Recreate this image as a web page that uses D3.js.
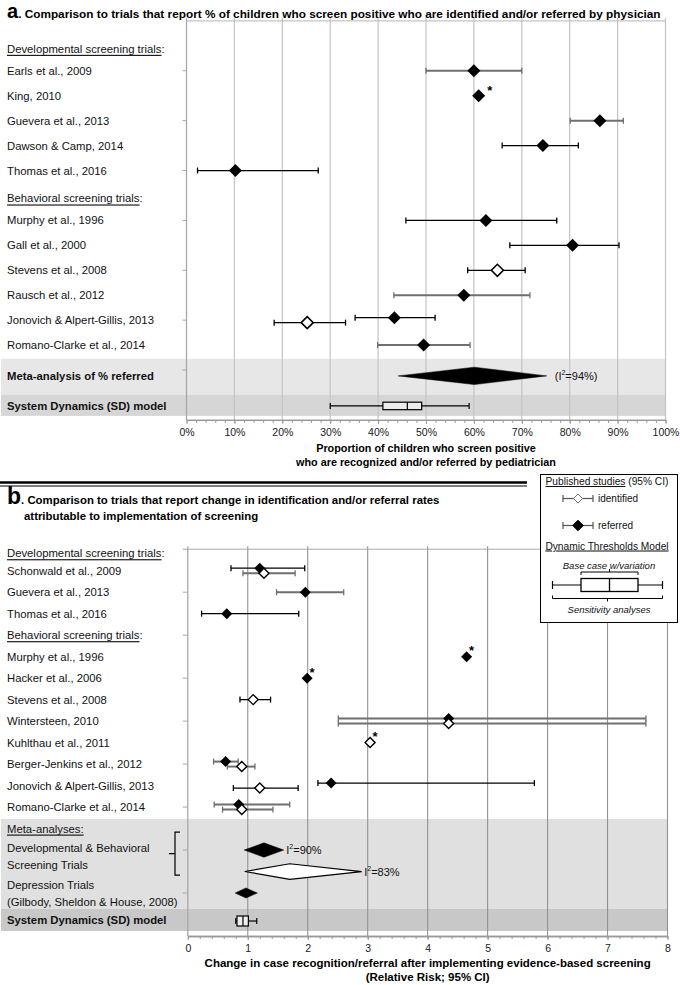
<!DOCTYPE html>
<html><head><meta charset="utf-8">
<script src="https://cdn.jsdelivr.net/npm/d3@7"></script>
<style>
body{margin:0;background:#fff;}
svg{display:block;}
</style></head><body>
<svg id="chart" width="680" height="985"></svg>
<script>
// ================= DATA: panel a (proportion identified / referred, %) =================
const aRows = ["Developmental screening trials:","Earls et al., 2009","King, 2010","Guevera et al., 2013",
  "Dawson & Camp, 2014","Thomas et al., 2016","Behavioral screening trials:","Murphy et al., 1996",
  "Gall et al., 2000","Stevens et al., 2008","Rausch et al., 2012","Jonovich & Alpert-Gillis, 2013",
  "Romano-Clarke et al., 2014","Meta-analysis of % referred","System Dynamics (SD) model"];
const aHeaders = ["Developmental screening trials:","Behavioral screening trials:"];
const aReferred = [
  {study:"Earls et al., 2009", est:60.0, lo:50.0, hi:70.0, ci:"derived"},
  {study:"King, 2010", est:61.0, lo:null, hi:null, ci:null, note:"*"},
  {study:"Guevera et al., 2013", est:86.3, lo:80.1, hi:91.2, ci:"derived"},
  {study:"Dawson & Camp, 2014", est:74.4, lo:65.9, hi:81.8, ci:"reported"},
  {study:"Thomas et al., 2016", est:10.2, lo:2.3, hi:27.5, ci:"reported"},
  {study:"Murphy et al., 1996", est:62.5, lo:45.8, hi:77.3, ci:"reported"},
  {study:"Gall et al., 2000", est:80.6, lo:67.5, hi:90.3, ci:"reported"},
  {study:"Rausch et al., 2012", est:57.9, lo:43.3, hi:71.7, ci:"derived"},
  {study:"Jonovich & Alpert-Gillis, 2013", est:43.4, lo:35.2, hi:51.9, ci:"reported"},
  {study:"Romano-Clarke et al., 2014", est:49.5, lo:39.9, hi:59.2, ci:"derived"}
];
const aIdentified = [
  {study:"Stevens et al., 2008", est:64.9, lo:58.7, hi:70.7, ci:"reported"},
  {study:"Jonovich & Alpert-Gillis, 2013", est:25.2, lo:18.3, hi:33.2, ci:"reported"}
];
const aMeta = [{row:"Meta-analysis of % referred", kind:"referred", lo:44.2, est:60.1, hi:75.2, i2:"94%"}];
const aModel = [{row:"System Dynamics (SD) model", min:30.0, q1:41.0, median:46.1, q3:49.1, max:59.0}];
const aTickValues = [0,10,20,30,40,50,60,70,80,90,100];
const aTickLabels = ["0%","10%","20%","30%","40%","50%","60%","70%","80%","90%","100%"];

// ================= DATA: panel b (relative risk) =================
const bRows = ["Developmental screening trials:","Schonwald et al., 2009","Guevera et al., 2013","Thomas et al., 2016",
  "Behavioral screening trials:","Murphy et al., 1996","Hacker et al., 2006","Stevens et al., 2008",
  "Wintersteen, 2010","Kuhlthau et al., 2011","Berger-Jenkins et al., 2012","Jonovich & Alpert-Gillis, 2013",
  "Romano-Clarke et al., 2014","Meta-analyses:","Dev & Beh screening (referred)","Dev & Beh screening (identified)",
  "Depression Trials","System Dynamics (SD) model"];
const bReferred = [
  {study:"Schonwald et al., 2009", est:1.20, lo:0.72, hi:1.95, ci:"reported"},
  {study:"Guevera et al., 2013", est:1.96, lo:1.48, hi:2.60, ci:"derived"},
  {study:"Thomas et al., 2016", est:0.65, lo:0.23, hi:1.85, ci:"reported"},
  {study:"Murphy et al., 1996", est:4.65, lo:null, hi:null, ci:null, note:"*"},
  {study:"Hacker et al., 2006", est:1.99, lo:null, hi:null, ci:null, note:"*"},
  {study:"Wintersteen, 2010", est:4.35, lo:2.51, hi:7.64, ci:"derived"},
  {study:"Berger-Jenkins et al., 2012", est:0.63, lo:0.43, hi:0.84, ci:"derived"},
  {study:"Jonovich & Alpert-Gillis, 2013", est:2.39, lo:2.17, hi:5.78, ci:"reported"},
  {study:"Romano-Clarke et al., 2014", est:0.85, lo:0.44, hi:1.70, ci:"derived"}
];
const bIdentified = [
  {study:"Schonwald et al., 2009", est:1.27, lo:0.92, hi:1.79, ci:"derived"},
  {study:"Stevens et al., 2008", est:1.09, lo:0.87, hi:1.38, ci:"reported"},
  {study:"Wintersteen, 2010", est:4.35, lo:2.51, hi:7.64, ci:"derived"},
  {study:"Kuhlthau et al., 2011", est:3.04, lo:null, hi:null, ci:null, note:"*"},
  {study:"Berger-Jenkins et al., 2012", est:0.90, lo:0.66, hi:1.12, ci:"derived"},
  {study:"Jonovich & Alpert-Gillis, 2013", est:1.20, lo:0.76, hi:1.84, ci:"reported"},
  {study:"Romano-Clarke et al., 2014", est:0.90, lo:0.58, hi:1.42, ci:"derived"}
];
const bMeta = [
  {row:"Dev & Beh screening (referred)", kind:"referred", lo:0.94, est:1.27, hi:1.60, i2:"90%"},
  {row:"Dev & Beh screening (identified)", kind:"identified", lo:0.95, est:1.70, hi:2.90, i2:"83%"},
  {row:"Depression Trials", kind:"referred", lo:0.79, est:0.97, hi:1.16, i2:null}
];
const bModel = [{row:"System Dynamics (SD) model", min:0.80, q1:0.82, median:0.92, q3:1.01, max:1.15}];
const bTickValues = [0,1,2,3,4,5,6,7,8];
const bTickLabels = ["0","1","2","3","4","5","6","7","8"];

// ================= STYLE =================
const FONT = '"Liberation Sans", Arial, Helvetica, sans-serif';
const LABEL_SIZE = 11.3;
const ciColor = {reported:"#000", derived:"#6f6f6f"};
const ciWidth = {reported:1.3, derived:2};

const svg = d3.select("#chart").attr("font-family", FONT);
svg.append("rect").attr("width",680).attr("height",985).attr("fill","#fff");

function diamond(cx, cy, hl, hr, hh, tipX) {
  return `M${hl},${cy}L${tipX},${cy-hh}L${hr},${cy}L${tipX},${cy+hh}Z`;
}

function headerText(g, x, y, label, underlineAll) {
  const t = g.append("text").attr("x",x).attr("y",y).attr("dominant-baseline","central")
    .attr("font-size",LABEL_SIZE).attr("fill","#111");
  if (underlineAll) {
    t.append("tspan").attr("text-decoration","underline").text(label);
  } else {
    t.append("tspan").attr("text-decoration","underline").text(label.replace(/:$/,""));
    t.append("tspan").text(":");
  }
}

function drawStudies(g, x, y, referred, identified, st) {
  const refSet = new Set(referred.map(d=>d.study));
  const both = new Set(identified.filter(d=>refSet.has(d.study)).map(d=>d.study));
  const all = referred.map(d=>({...d, kind:"referred"})).concat(identified.map(d=>({...d, kind:"identified"})));
  all.forEach(d=>{
    const off = both.has(d.study) ? (d.kind==="referred" ? -st.pairOffset : st.pairOffset) : 0;
    d.cy = y(d.study) + off;
  });
  const ci = all.filter(d=>d.lo!=null);
  const eb = g.append("g");
  eb.selectAll("line.bar").data(ci).join("line")
    .attr("x1",d=>x(d.lo)).attr("x2",d=>x(d.hi)).attr("y1",d=>d.cy).attr("y2",d=>d.cy)
    .attr("stroke",d=>ciColor[d.ci]).attr("stroke-width",d=>ciWidth[d.ci]);
  ["lo","hi"].forEach(k=>{
    eb.selectAll("line.cap"+k).data(ci).join("line")
      .attr("x1",d=>x(d[k])).attr("x2",d=>x(d[k])).attr("y1",d=>d.cy-st.cap).attr("y2",d=>d.cy+st.cap)
      .attr("stroke",d=>ciColor[d.ci]).attr("stroke-width",1.3);
  });
  const ref = all.filter(d=>d.kind==="referred"), idf = all.filter(d=>d.kind==="identified");
  g.selectAll("path.ref").data(ref).join("path")
    .attr("d",d=>diamond(x(d.est), d.cy, x(d.est)-st.h, x(d.est)+st.h, st.h, x(d.est)))
    .attr("fill","#000");
  g.selectAll("path.idf").data(idf).join("path")
    .attr("d",d=>diamond(x(d.est), d.cy, x(d.est)-st.ho, x(d.est)+st.ho, st.ho, x(d.est)))
    .attr("fill","#fff").attr("stroke","#000").attr("stroke-width",st.ow);
  g.selectAll("text.note").data(all.filter(d=>d.note)).join("text")
    .attr("x",d=>x(d.est)+st.starDx).attr("y",d=>d.cy+st.starDy)
    .attr("text-anchor","middle").attr("font-size",13).attr("font-weight","bold").text(d=>d.note);
}

function drawMeta(g, x, cyOf, data, halfOf, labelGap, paren) {
  g.selectAll("path.meta").data(data).join("path")
    .attr("d",(d,i)=>diamond(0, cyOf(d), x(d.lo), x(d.hi), halfOf(i), x(d.est)))
    .attr("fill",d=>d.kind==="referred"?"#000":"#fff")
    .attr("stroke","#000").attr("stroke-width",d=>d.kind==="referred"?0.5:1.2);
  const lab = g.selectAll("text.i2").data(data.filter(d=>d.i2)).join("text")
    .attr("x",d=>x(d.hi)+labelGap).attr("y",d=>cyOf(d)).attr("dominant-baseline","central")
    .attr("font-size",11).attr("fill","#111");
  lab.each(function(d){
    const t = d3.select(this);
    if (paren) t.append("tspan").text("(");
    t.append("tspan").text("I");
    t.append("tspan").attr("font-size",7).attr("dy",-4).text("2");
    t.append("tspan").attr("dy",4).text("=" + d.i2 + (paren?")":""));
  });
}

function drawModel(g, x, cy, d, bh, fill) {
  g.append("line").attr("x1",x(d.min)).attr("x2",x(d.max)).attr("y1",cy).attr("y2",cy)
    .attr("stroke","#000").attr("stroke-width",1.2);
  [d.min,d.max].forEach(v=>g.append("line").attr("x1",x(v)).attr("x2",x(v)).attr("y1",cy-3).attr("y2",cy+3)
    .attr("stroke","#000").attr("stroke-width",1.2));
  g.append("rect").attr("x",x(d.q1)).attr("y",cy-bh/2).attr("width",x(d.q3)-x(d.q1)).attr("height",bh)
    .attr("fill",fill).attr("stroke","#000").attr("stroke-width",1.2);
  g.append("line").attr("x1",x(d.median)).attr("x2",x(d.median)).attr("y1",cy-bh/2).attr("y2",cy+bh/2)
    .attr("stroke","#000").attr("stroke-width",1.2);
}

// ================= PANEL A =================
(function(){
  const g = svg.append("g");
  const x = d3.scaleLinear().domain([0,100]).range([186.5,665.5]);
  const y = d3.scalePoint().domain(["__top", ...aRows, "__axis"]).range([20.9,419.9]);
  const step = y.step();
  const top = y("__top"), axisY = y("__axis");
  const metaTop = y(aRows[12]) + 0.55*step, sdTop = y(aRows[14]), sdBot = axisY - 4;
  g.append("rect").attr("x",1).attr("y",metaTop).attr("width",x(100)-1).attr("height",sdTop-metaTop).attr("fill","#e7e7e7");
  g.append("rect").attr("x",1).attr("y",sdTop).attr("width",x(100)-1).attr("height",sdBot-sdTop).attr("fill","#d6d6d6");
  g.selectAll("line.grid").data(aTickValues.slice(1)).join("line")
    .attr("x1",d=>x(d)).attr("x2",d=>x(d)).attr("y1",top-3).attr("y2",axisY)
    .attr("stroke","#c4c4c4").attr("stroke-width",1.2);
  g.append("line").attr("x1",x(0)).attr("x2",x(100)).attr("y1",top).attr("y2",top).attr("stroke","#b5b5b5");
  g.append("line").attr("x1",x(0)).attr("x2",x(0)).attr("y1",top-3).attr("y2",axisY).attr("stroke","#a8a8a8").attr("stroke-width",1.3);
  const tickRows = aRows.filter((r,i)=>i%2===1);
  g.selectAll("line.lt").data(tickRows).join("line")
    .attr("x1",x(0)-4).attr("x2",x(0)).attr("y1",d=>y(d)).attr("y2",d=>y(d)).attr("stroke","#a8a8a8");
  const ax = g.append("g").attr("transform",`translate(0,${axisY})`);
  ax.call(d3.axisBottom(x).tickValues(d3.range(0,101,2)).tickSize(3).tickSizeOuter(0).tickFormat(""));
  const ax2 = g.append("g").attr("transform",`translate(0,${axisY})`);
  ax2.call(d3.axisBottom(x).tickValues(aTickValues).tickSize(4).tickSizeOuter(0).tickPadding(5)
    .tickFormat((d,i)=>aTickLabels[i]));
  [ax,ax2].forEach(a=>{ a.selectAll("path,line").attr("stroke","#999"); a.select(".domain").attr("stroke-width",1.3);
    a.selectAll("text").attr("font-family",FONT).attr("font-size",10.5).attr("fill","#1a1a1a"); });
  aRows.forEach((r,i)=>{
    if (aHeaders.includes(r)) headerText(g, 7, y(r)+3, r, false);
    else if (i < 13) g.append("text").attr("x",7).attr("y",y(r)).attr("dominant-baseline","central")
        .attr("font-size",LABEL_SIZE).attr("fill","#111").text(r);
  });
  const metaCy = (metaTop+sdTop)/2 - 1, sdCy = (sdTop+sdBot)/2 + 0.5;
  g.append("text").attr("x",7).attr("y",metaCy).attr("dominant-baseline","central").attr("font-size",LABEL_SIZE)
    .attr("font-weight","bold").attr("fill","#111").text(aRows[13]);
  g.append("text").attr("x",7).attr("y",sdCy).attr("dominant-baseline","central").attr("font-size",LABEL_SIZE)
    .attr("font-weight","bold").attr("fill","#111").text(aRows[14]);
  drawStudies(g, x, y, aReferred, aIdentified, {pairOffset:2.5, cap:3, h:6.5, ho:6, ow:1.6, starDx:11, starDy:-1});
  drawMeta(g, x, ()=>metaCy, aMeta, ()=>8.7, 8, true);
  drawModel(g, x, sdCy, aModel[0], 7.5, "#ececec");
  const t = g.append("text").attr("x",7).attr("y",18).attr("font-weight","bold").attr("fill","#000");
  t.append("tspan").attr("font-size",20).text("a");
  t.append("tspan").attr("font-size",11.8).text(". Comparison to trials that report % of children who screen positive who are identified and/or referred by physician");
  const at = g.append("text").attr("text-anchor","middle").attr("font-weight","bold").attr("font-size",10.8).attr("fill","#000");
  at.append("tspan").attr("x",(x(0)+x(100))/2).attr("y",452).text("Proportion of children who screen positive");
  at.append("tspan").attr("x",(x(0)+x(100))/2).attr("y",466).text("who are recognized and/or referred by pediatrician");
})();

// separator
svg.append("line").attr("x1",0).attr("x2",527).attr("y1",482.5).attr("y2",482.5).attr("stroke","#000").attr("stroke-width",2.5);
svg.append("line").attr("x1",0).attr("x2",527).attr("y1",486).attr("y2",486).attr("stroke","#000").attr("stroke-width",1.2);

// ================= PANEL B =================
(function(){
  const g = svg.append("g");
  const x = d3.scaleLinear().domain([0,8]).range([187.8,667.5]);
  const y = d3.scalePoint().domain([...bRows, "__axis"]).range([549.2,936]);
  const step = y.step();
  const top = y(bRows[0]), axisY = y("__axis");
  const metaTop = y(bRows[12]) + 0.55*step, sdTop = y(bRows[17]) - 5.5, sdBot = axisY - 5;
  g.append("rect").attr("x",1).attr("y",metaTop).attr("width",x(8)-1).attr("height",sdTop-metaTop).attr("fill","#e0e0e0");
  g.append("rect").attr("x",1).attr("y",sdTop).attr("width",x(8)-1).attr("height",sdBot-sdTop).attr("fill","#c8c8c8");
  g.selectAll("line.grid").data(bTickValues.slice(1)).join("line")
    .attr("x1",d=>x(d)).attr("x2",d=>x(d)).attr("y1",top-3).attr("y2",axisY)
    .attr("stroke","#929292").attr("stroke-width",1.1);
  g.append("line").attr("x1",x(0)).attr("x2",x(8)).attr("y1",top).attr("y2",top).attr("stroke","#aaa");
  g.append("line").attr("x1",x(0)).attr("x2",x(0)).attr("y1",top-3).attr("y2",axisY).attr("stroke","#a8a8a8").attr("stroke-width",1.3);
  const tickRows = bRows.filter((r,i)=>i%2===0);
  g.selectAll("line.lt").data(tickRows).join("line")
    .attr("x1",x(0)-5).attr("x2",x(0)).attr("y1",d=>y(d)).attr("y2",d=>y(d)).attr("stroke","#a8a8a8");
  const ax = g.append("g").attr("transform",`translate(0,${axisY})`);
  ax.call(d3.axisBottom(x).tickValues(d3.range(0,8.01,0.2)).tickSize(3).tickSizeOuter(0).tickFormat(""));
  const ax2 = g.append("g").attr("transform",`translate(0,${axisY})`);
  ax2.call(d3.axisBottom(x).tickValues(bTickValues).tickSize(4).tickSizeOuter(0).tickPadding(5)
    .tickFormat((d,i)=>bTickLabels[i]));
  [ax,ax2].forEach(a=>{ a.selectAll("path,line").attr("stroke","#999"); a.select(".domain").attr("stroke-width",1.3);
    a.selectAll("text").attr("font-family",FONT).attr("font-size",10.5).attr("fill","#1a1a1a"); });
  bRows.forEach((r,i)=>{
    if (i===0) headerText(g, 7, y(r)+4, r, false);
    else if (i===4) headerText(g, 7, y(r), r, false);
    else if (i===13) headerText(g, 7, y(r), r, true);
    else if (i < 13) g.append("text").attr("x",7).attr("y",y(r)).attr("dominant-baseline","central")
        .attr("font-size",LABEL_SIZE).attr("fill","#111").text(r);
  });
  const lbl = (txt, yy)=>g.append("text").attr("x",7).attr("y",yy).attr("dominant-baseline","central")
        .attr("font-size",LABEL_SIZE).attr("fill","#111").text(txt);
  lbl("Developmental & Behavioral", y(bRows[14])-2);
  lbl("Screening Trials", y(bRows[14])+14.5);
  lbl("Depression Trials", y(bRows[16])-8.5);
  lbl("(Gilbody, Sheldon & House, 2008)", y(bRows[16])+8.5);
  const sdCy = (sdTop+sdBot)/2;
  g.append("text").attr("x",7).attr("y",sdCy).attr("dominant-baseline","central").attr("font-size",LABEL_SIZE)
    .attr("font-weight","bold").attr("fill","#111").text(bRows[17]);
  const bTop = y(bRows[14])-18, bBot = y(bRows[15])+3.5, bMid = (bTop+bBot)/2, bx = 175;
  g.append("path").attr("d",`M${bx+5},${bTop}H${bx}V${bBot}H${bx+5}M${bx},${bMid}H${bx-6}`)
    .attr("fill","none").attr("stroke","#000").attr("stroke-width",1.2);

  drawStudies(g, x, y, bReferred, bIdentified, {pairOffset:2.5, cap:3, h:5.5, ho:5, ow:1.4, starDx:5, starDy:-1.5});
  const halves = [7.2, 7.8, 5];
  drawMeta(g, x, d=>y(d.row), bMeta, i=>halves[i], 2.5, false);
  drawModel(g, x, sdCy+1, bModel[0], 10, "#eeeeee");

  const t = g.append("text").attr("x",7).attr("y",504).attr("font-weight","bold").attr("fill","#000");
  t.append("tspan").attr("font-size",23).text("b");
  t.append("tspan").attr("font-size",11.4).text(". Comparison to trials that report change in identification and/or referral rates");
  g.append("text").attr("x",24).attr("y",520).attr("font-weight","bold").attr("font-size",11.4)
    .text("attributable to implementation of screening");
  const at = g.append("text").attr("text-anchor","middle").attr("font-weight","bold").attr("font-size",11.5).attr("fill","#000");
  at.append("tspan").attr("x",(x(0)+x(8))/2).attr("y",967).text("Change in case recognition/referral after implementing evidence-based screening");
  at.append("tspan").attr("x",(x(0)+x(8))/2).attr("y",981).text("(Relative Risk; 95% CI)");

  // legend
  const L = svg.append("g");
  L.append("rect").attr("x",540.5).attr("y",474.5).attr("width",137).attr("height",148)
    .attr("fill","#fff").attr("stroke","#000").attr("stroke-width",1);
  const lt = L.append("text").attr("x",607).attr("y",485).attr("text-anchor","middle").attr("font-size",10.2).attr("fill","#111");
  lt.append("tspan").attr("text-decoration","underline").text("Published studies");
  lt.append("tspan").text(" (95% CI)");
  const rowsL = [{kind:"identified", cy:498.5, label:"identified"},{kind:"referred", cy:525.5, label:"referred"}];
  rowsL.forEach(r=>{
    L.append("line").attr("x1",563).attr("x2",593).attr("y1",r.cy).attr("y2",r.cy).attr("stroke","#555").attr("stroke-width",1.2);
    [563,593].forEach(v=>L.append("line").attr("x1",v).attr("x2",v).attr("y1",r.cy-3.5).attr("y2",r.cy+3.5).attr("stroke","#555").attr("stroke-width",1.2));
    const h = r.kind==="referred"?5.3:4.5;
    L.append("path").attr("d",diamond(578,r.cy,578-h,578+h,h,578))
      .attr("fill",r.kind==="referred"?"#000":"#fff").attr("stroke",r.kind==="referred"?"#000":"#777").attr("stroke-width",1);
    L.append("text").attr("x",598).attr("y",r.cy).attr("dominant-baseline","central").attr("font-size",10).attr("fill","#111").text(r.label);
  });
  L.append("text").attr("x",607).attr("y",549.5).attr("text-anchor","middle").attr("font-size",10.2).attr("fill","#111")
    .attr("text-decoration","underline").text("Dynamic Thresholds Model");
  L.append("text").attr("x",609).attr("y",568.5).attr("text-anchor","middle").attr("font-size",9.5).attr("font-style","italic").attr("fill","#111")
    .text("Base case w/variation");
  L.append("path").attr("d","M581,575V572H638V575M609.5,572V569").attr("fill","none").attr("stroke","#000").attr("stroke-width",1);
  L.append("line").attr("x1",552.5).attr("x2",662.5).attr("y1",585).attr("y2",585).attr("stroke","#000").attr("stroke-width",1.2);
  [552.5,662.5].forEach(v=>L.append("line").attr("x1",v).attr("x2",v).attr("y1",581).attr("y2",589).attr("stroke","#000").attr("stroke-width",1.2));
  L.append("rect").attr("x",581).attr("y",578.5).attr("width",57).attr("height",13).attr("fill","#fff").attr("stroke","#000").attr("stroke-width",1.3);
  L.append("line").attr("x1",609.5).attr("x2",609.5).attr("y1",578.5).attr("y2",591.5).attr("stroke","#000").attr("stroke-width",1.3);
  L.append("path").attr("d","M552.5,595.5V598.5H662.5V595.5M607.5,598.5V601.5").attr("fill","none").attr("stroke","#000").attr("stroke-width",1);
  L.append("text").attr("x",609).attr("y",613).attr("text-anchor","middle").attr("font-size",9.5).attr("font-style","italic").attr("fill","#111")
    .text("Sensitivity analyses");
})();
</script>
</body></html>
